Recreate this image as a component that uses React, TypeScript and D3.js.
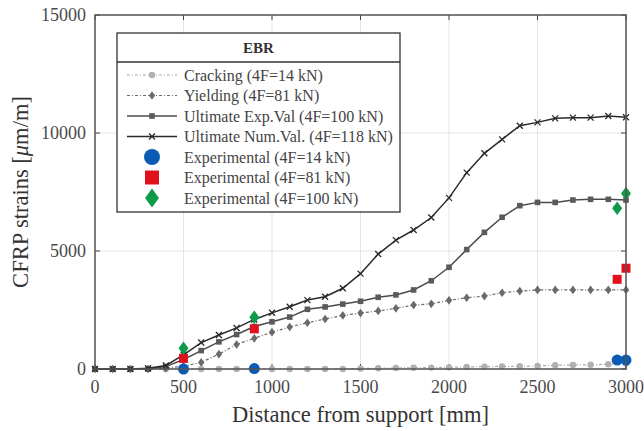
import React from "react";
import * as d3 from "d3";

const distances = d3.range(0, 3001, 100);
const cracking = [0,0,0,0,0,0,0,0,0,0,0,0,0,0,0,20,30,40,50,60,70,90,100,110,120,130,160,170,180,200,230];
const yielding = [0,0,0,0,30,120,280,630,1040,1300,1560,1780,1960,2120,2270,2370,2460,2570,2710,2760,2910,3020,3090,3230,3300,3350,3350,3350,3350,3350,3350];
const ultimateExp = [0,0,0,0,100,400,780,1150,1460,1800,2000,2200,2530,2630,2750,2870,3040,3140,3350,3740,4310,5060,5790,6430,6920,7060,7060,7160,7190,7190,7160];
const ultimateNum = [0,0,0,30,150,600,1120,1440,1740,2100,2380,2640,2920,3060,3420,4040,4870,5460,5890,6420,7250,8320,9140,9730,10310,10450,10620,10650,10650,10720,10670];

const expX = [500, 900, 2950, 3000];
const exp14 = [0, 20, 380, 380];
const exp81 = [450, 1700, 3800, 4270];
const exp100 = [880, 2190, 6810, 7440];

const xTicks = [0, 500, 1000, 1500, 2000, 2500, 3000];
const yTicks = [0, 5000, 10000, 15000];

const legendLabels = [
  "Cracking (4F=14 kN)",
  "Yielding (4F=81 kN)",
  "Ultimate Exp.Val (4F=100 kN)",
  "Ultimate Num.Val. (4F=118 kN)",
  "Experimental (4F=14 kN)",
  "Experimental (4F=81 kN)",
  "Experimental (4F=100 kN)",
];

const W = 644, H = 431;
const X0 = 95, X1 = 626, Y0 = 369, Y1 = 15;
const serif = "'Liberation Serif', 'DejaVu Serif', serif";

const BLUE = "#0b5bb5";
const RED = "#e0101c";
const GREEN = "#0e9a4a";

function Marker({ kind, x, y, s, color }: { kind: string; x: number; y: number; s: number; color: string }) {
  if (kind === "circle") return <circle cx={x} cy={y} r={s} fill={color} />;
  if (kind === "square") return <rect x={x - s} y={y - s} width={2 * s} height={2 * s} fill={color} />;
  if (kind === "diamond")
    return <path d={`M${x},${y - s * 1.35}L${x + s},${y}L${x},${y + s * 1.35}L${x - s},${y}Z`} fill={color} />;
  if (kind === "x")
    return (
      <path d={`M${x - s},${y - s}L${x + s},${y + s}M${x - s},${y + s}L${x + s},${y - s}`} stroke={color} strokeWidth={1.3} fill="none" />
    );
  return null;
}

export default function App() {
  const x = d3.scaleLinear().domain([0, 3000]).range([X0, X1]);
  const y = d3.scaleLinear().domain([0, 15000]).range([Y0, Y1]);
  const line = d3.line<number>().x((_, i) => x(distances[i])).y((d) => y(d));

  const series = [
    { data: cracking, color: "#a8a8a8", dash: "3,2,1,2", width: 1.2, kind: "circle", ms: 3.2, mcol: "#b0b0b0" },
    { data: yielding, color: "#6a6a6a", dash: "3,2,1,2", width: 1.2, kind: "diamond", ms: 3.2, mcol: "#6a6a6a" },
    { data: ultimateExp, color: "#4a4a4a", dash: "", width: 1.5, kind: "square", ms: 2.8, mcol: "#5a5a5a" },
    { data: ultimateNum, color: "#2a2a2a", dash: "", width: 1.5, kind: "x", ms: 3, mcol: "#2a2a2a" },
  ];

  const exps = [
    { data: exp14, kind: "circle", color: BLUE, s: 5.5, ls: 8 },
    { data: exp81, kind: "square", color: RED, s: 4.5, ls: 7 },
    { data: exp100, kind: "diamond", color: GREEN, s: 5, ls: 7 },
  ];

  const lgX = 117, lgY = 33, lgW = 283, lgH = 179;
  const rowY0 = 75, rowDy = 20.5;

  return (
    <svg width={W} height={H} style={{ position: "absolute", left: 0, top: 0, background: "#fff" }} fontFamily={serif}>
      <rect x={0} y={0} width={W} height={H} fill="#fff" />
      {/* grid */}
      {xTicks.map((t) => (
        <line key={"gx" + t} x1={x(t)} x2={x(t)} y1={Y0} y2={Y1} stroke="#e4e4e4" strokeWidth={1} />
      ))}
      {yTicks.map((t) => (
        <line key={"gy" + t} x1={X0} x2={X1} y1={y(t)} y2={y(t)} stroke="#e4e4e4" strokeWidth={1} />
      ))}
      {/* ticks */}
      {yTicks.map((t) => (
        <g key={"ty" + t}>
          <line x1={X0} x2={X0 + 5} y1={y(t)} y2={y(t)} stroke="#444" />
          <line x1={X1} x2={X1 - 5} y1={y(t)} y2={y(t)} stroke="#444" />
          <text x={X0 - 9} y={y(t)} dy="0.35em" textAnchor="end" fontSize={18} fill="#4a4a4a">{t}</text>
        </g>
      ))}
      {xTicks.map((t) => (
        <g key={"tx" + t}>
          <line x1={x(t)} x2={x(t)} y1={Y0} y2={Y0 - 5} stroke="#444" />
          <line x1={x(t)} x2={x(t)} y1={Y1} y2={Y1 + 5} stroke="#444" />
          <text x={x(t)} y={Y0 + 24} textAnchor="middle" fontSize={18} fill="#4a4a4a">{t}</text>
        </g>
      ))}
      {/* series */}
      {series.map((s, si) => (
        <g key={"s" + si}>
          <path d={line(s.data) || ""} fill="none" stroke={s.color} strokeWidth={s.width} strokeDasharray={s.dash} />
          {s.data.map((v, i) => (
            <Marker key={i} kind={s.kind} x={x(distances[i])} y={y(v)} s={s.ms} color={s.mcol} />
          ))}
        </g>
      ))}
      {exps.map((e, ei) => (
        <g key={"e" + ei}>
          {e.data.map((v, i) => (
            <Marker key={i} kind={e.kind} x={x(expX[i])} y={y(v)} s={e.s} color={e.color} />
          ))}
        </g>
      ))}
      {/* frame */}
      <rect x={X0} y={Y1} width={X1 - X0} height={Y0 - Y1} fill="none" stroke="#555" strokeWidth={1.5} />
      {/* legend */}
      <rect x={lgX} y={lgY} width={lgW} height={lgH} fill="#fff" stroke="#333" strokeWidth={1.3} />
      <line x1={lgX} x2={lgX + lgW} y1={62} y2={62} stroke="#333" strokeWidth={1.3} />
      <text x={lgX + lgW / 2} y={53} textAnchor="middle" fontSize={15} fontWeight="bold" fill="#333">EBR</text>
      {legendLabels.map((lab, i) => {
        const ry = rowY0 + i * rowDy;
        const s = series[i];
        const e = exps[i - 4];
        return (
          <g key={"lg" + i}>
            {s && (
              <>
                <line x1={127} x2={177} y1={ry} y2={ry} stroke={s.color} strokeWidth={s.width} strokeDasharray={s.dash} />
                <Marker kind={s.kind} x={152} y={ry} s={s.ms} color={s.mcol} />
              </>
            )}
            {e && <Marker kind={e.kind} x={152} y={ry} s={e.ls} color={e.color} />}
            <text x={184} y={ry} dy="0.35em" fontSize={16} fill="#444">{lab}</text>
          </g>
        );
      })}
      {/* axis titles */}
      <text x={(X0 + X1) / 2} y={422} textAnchor="middle" fontSize={22.5} fill="#333">Distance from support [mm]</text>
      <text transform={`translate(28,${(Y0 + Y1) / 2}) rotate(-90)`} textAnchor="middle" fontSize={22.5} fill="#333">
        CFRP strains [<tspan fontStyle="italic">μ</tspan>m/m]
      </text>
    </svg>
  );
}
